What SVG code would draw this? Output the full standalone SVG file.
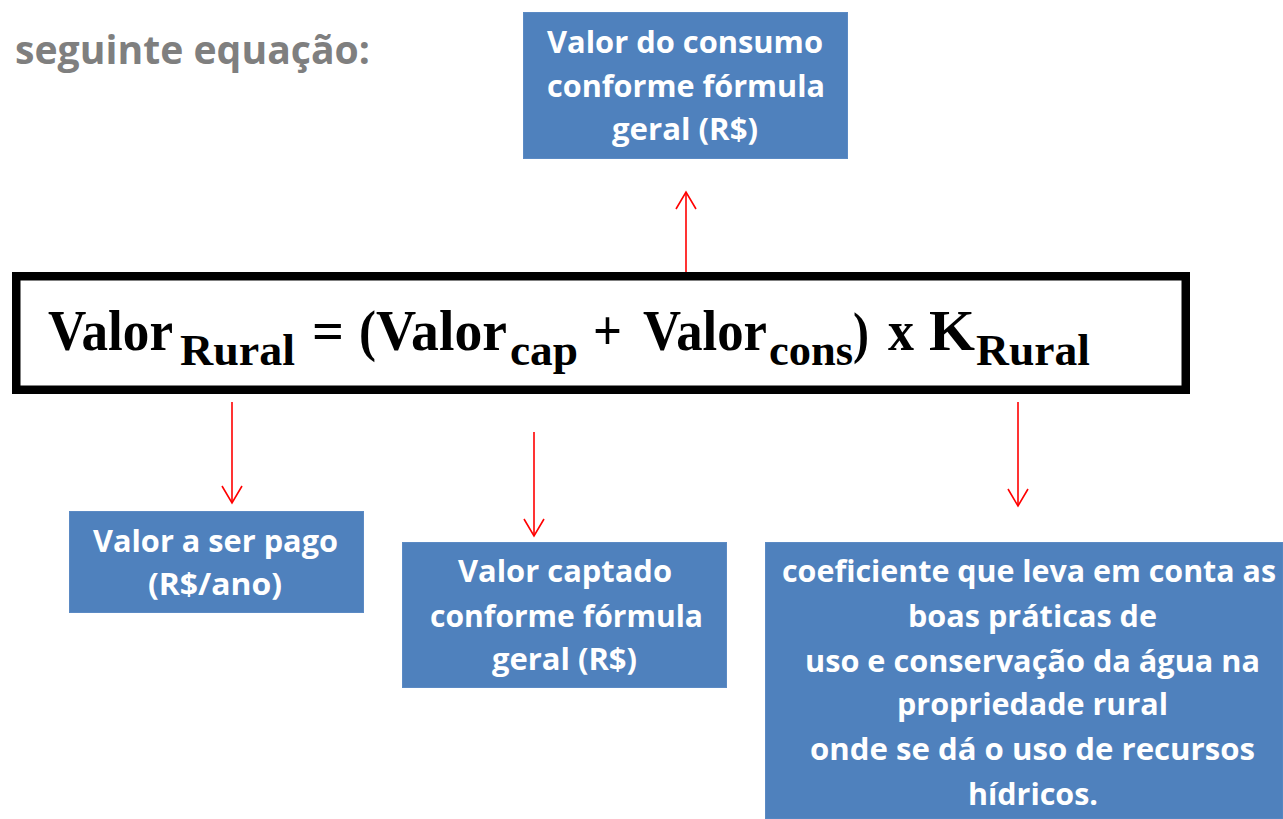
<svg xmlns="http://www.w3.org/2000/svg" width="1283" height="819" viewBox="0 0 1283 819">
<style>
.box{fill:#4F81BD;stroke:#5B8AC4;stroke-width:1}
.lbl{font-family:"Open Sans","Liberation Sans",sans-serif;font-weight:700;font-size:31px;fill:#FFFFFF;text-anchor:start}
.eq{font-family:"Liberation Serif","Times New Roman",serif;font-weight:700;fill:#000}
.m{font-size:58px}
.s{font-size:44px}
.conn line{stroke:#FF0000;stroke-width:1.6;fill:none}
</style>
<defs>
<marker id="ah" markerUnits="userSpaceOnUse" markerWidth="24" markerHeight="24" viewBox="-20 -12 24 24" refX="0" refY="0" orient="auto">
<path d="M-17,-10 L0,0 L-17,10" fill="none" stroke="#FF0000" stroke-width="1.6"/>
</marker>
</defs>
<rect width="1283" height="819" fill="#FFFFFF"/>
<g id="heading">
<text x="15" y="64" font-family="'Open Sans','Liberation Sans',sans-serif" font-weight="700" font-size="39" fill="#7F7F7F" textLength="355" lengthAdjust="spacingAndGlyphs">seguinte equação:</text>
</g>
<g id="equation">
<rect x="16.25" y="276.25" width="1169.5" height="113.5" fill="#FFFFFF" stroke="#000000" stroke-width="8.5"/>
<text class="eq m" x="48" y="350" textLength="125" lengthAdjust="spacingAndGlyphs">Valor</text>
<text class="eq s" x="180" y="365" textLength="115" lengthAdjust="spacingAndGlyphs">Rural</text>
<text class="eq m" x="312" y="350" textLength="32" lengthAdjust="spacingAndGlyphs">=</text>
<text class="eq m" x="359" y="350" textLength="17" lengthAdjust="spacingAndGlyphs">(</text>
<text class="eq m" x="376" y="350" textLength="131" lengthAdjust="spacingAndGlyphs">Valor</text>
<text class="eq s" x="510" y="365" textLength="68" lengthAdjust="spacingAndGlyphs">cap</text>
<text class="eq m" x="593" y="350" textLength="29" lengthAdjust="spacingAndGlyphs">+</text>
<text class="eq m" x="643" y="350" textLength="124" lengthAdjust="spacingAndGlyphs">Valor</text>
<text class="eq s" x="769" y="365" textLength="84" lengthAdjust="spacingAndGlyphs">cons</text>
<text class="eq m" x="853" y="352" textLength="16" lengthAdjust="spacingAndGlyphs">)</text>
<text class="eq m" x="888" y="350" textLength="26" lengthAdjust="spacingAndGlyphs">x</text>
<text class="eq m" x="929" y="350" textLength="46" lengthAdjust="spacingAndGlyphs">K</text>
<text class="eq s" x="976" y="365" textLength="114" lengthAdjust="spacingAndGlyphs">Rural</text>
</g>
<g id="node-consumo">
<rect class="box" x="523.5" y="12.5" width="324" height="146"/>
<text class="lbl" x="547" y="53" textLength="276" lengthAdjust="spacingAndGlyphs">Valor do consumo</text>
<text class="lbl" x="547" y="97" textLength="278" lengthAdjust="spacingAndGlyphs">conforme fórmula</text>
<text class="lbl" x="612" y="140" textLength="146" lengthAdjust="spacingAndGlyphs">geral (R$)</text>
</g>
<g id="node-pago">
<rect class="box" x="69.5" y="511.5" width="294" height="101"/>
<text class="lbl" x="93" y="552" textLength="245" lengthAdjust="spacingAndGlyphs">Valor a ser pago</text>
<text class="lbl" x="148" y="595" textLength="134" lengthAdjust="spacingAndGlyphs">(R$/ano)</text>
</g>
<g id="node-captado">
<rect class="box" x="402.5" y="542.5" width="324" height="145"/>
<text class="lbl" x="458" y="582" textLength="214" lengthAdjust="spacingAndGlyphs">Valor captado</text>
<text class="lbl" x="430" y="627" textLength="273" lengthAdjust="spacingAndGlyphs">conforme fórmula</text>
<text class="lbl" x="492" y="670" textLength="145" lengthAdjust="spacingAndGlyphs">geral (R$)</text>
</g>
<g id="node-coeficiente">
<rect class="box" x="765.5" y="542.5" width="517.5" height="276.5"/>
<text class="lbl" x="782" y="582" textLength="494" lengthAdjust="spacingAndGlyphs">coeficiente que leva em conta as</text>
<text class="lbl" x="908" y="627" textLength="249" lengthAdjust="spacingAndGlyphs">boas práticas de</text>
<text class="lbl" x="805" y="672" textLength="455" lengthAdjust="spacingAndGlyphs">uso e conservação da água na</text>
<text class="lbl" x="897" y="715" textLength="271" lengthAdjust="spacingAndGlyphs">propriedade rural</text>
<text class="lbl" x="810" y="760" textLength="445" lengthAdjust="spacingAndGlyphs">onde se dá o uso de recursos</text>
<text class="lbl" x="968" y="805" textLength="130" lengthAdjust="spacingAndGlyphs">hídricos.</text>
</g>
<g id="connectors" class="conn">
<line x1="686" y1="272" x2="686" y2="192" marker-end="url(#ah)"/>
<line x1="232" y1="402" x2="232" y2="503" marker-end="url(#ah)"/>
<line x1="534" y1="432" x2="534" y2="536" marker-end="url(#ah)"/>
<line x1="1018" y1="402" x2="1018" y2="506" marker-end="url(#ah)"/>
</g>
</svg>
